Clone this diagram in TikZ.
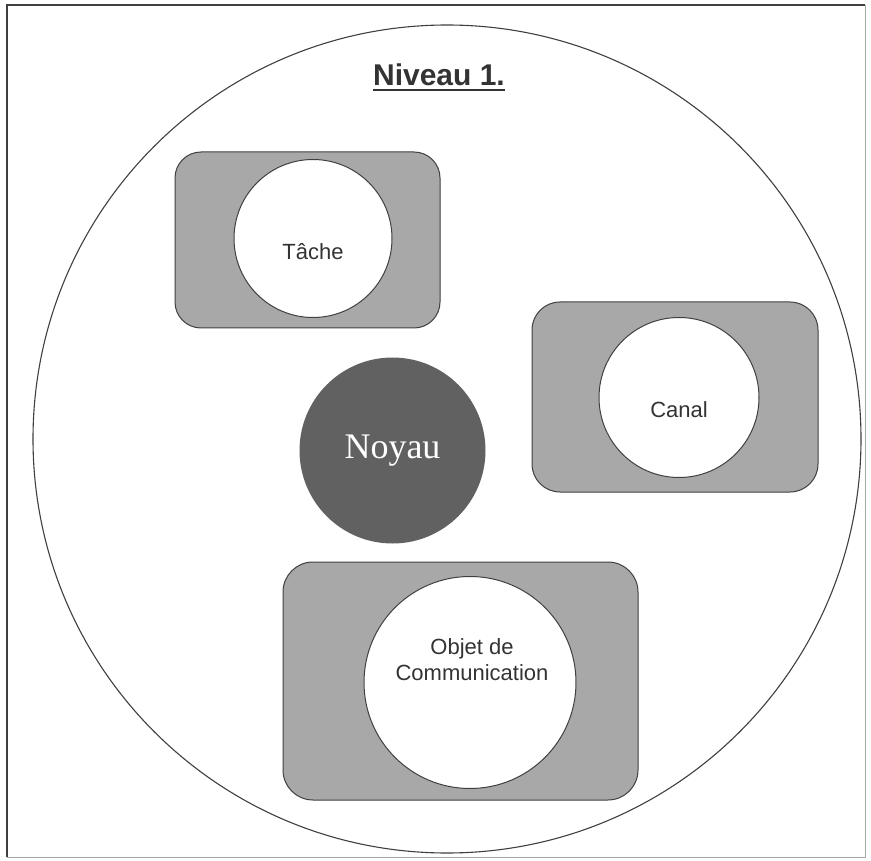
\documentclass[tikz,border=0pt]{standalone}
\usepackage{fontspec}
\setmainfont{Liberation Sans}
\newfontfamily\serifnoyau{Liberation Serif}
\definecolor{boxgray}{gray}{0.66}
\definecolor{coregray}{gray}{0.38}
\definecolor{linegray}{gray}{0.25}
\definecolor{txtgray}{gray}{0.2}
\tikzset{
  x=1pt, y=-1pt,
  outerring/.style={circle, draw=linegray, line width=1.1pt, minimum size=828pt, inner sep=0pt, outer sep=0pt},
  shadebox/.style={rectangle, rounded corners=26pt, draw=linegray, line width=1pt, fill=boxgray, inner sep=0pt, outer sep=0pt},
  whitedisc/.style={circle, draw=linegray, line width=1pt, fill=white, inner sep=0pt, outer sep=0pt},
  label/.style={text=txtgray, font=\fontsize{22}{26}\selectfont, align=center, inner sep=0pt},
  core/.style={circle, fill=coregray, minimum size=186pt, inner sep=0pt, outer sep=0pt, text=white, font=\serifnoyau\fontsize{36}{40}\selectfont}
}
\begin{document}
\begin{tikzpicture}
\useasboundingbox (0,0) rectangle (871,861);
\fill[white] (0,0) rectangle (871,861);
% frame
\coordinate (ftl) at (7,5);
\coordinate (ftr) at (865,5);
\coordinate (fbl) at (7,857);
\coordinate (fbr) at (865,857);
\draw[gray!70, line width=0.8pt] (ftr) -- (fbr) -- (fbl);
\draw[linegray, line width=1.6pt] (fbl) -- (ftl) -- (ftr);
% outer circle
\node[outerring] (ring) at (447,439) {};
% title
\node[text=txtgray, font=\bfseries\fontsize{30}{34}\selectfont, inner sep=0pt, anchor=base] (title) at (439,86) {Niveau 1.};
\draw[txtgray, line width=1.6pt] ([yshift=-4pt]title.base west) -- ([yshift=-4pt]title.base east);
% Tache
\node[shadebox, minimum width=265pt, minimum height=176pt] (tbox) at (307.5,240) {};
\node[whitedisc, minimum size=158pt] (tcirc) at (313,238.5) {};
\node[label] (tlab) at (313,252) {Tâche};
% Canal
\node[shadebox, minimum width=286pt, minimum height=190pt, rounded corners=28pt] (cbox) at (675,397) {};
\node[whitedisc, minimum size=160pt] (ccirc) at (679,397.5) {};
\node[label] (clab) at (679,410) {Canal};
% Noyau
\node[core] (noyau) at (392.5,450.5) {Noyau};
% Objet
\node[shadebox, minimum width=355pt, minimum height=238pt, rounded corners=30pt] (obox) at (460.5,681) {};
\node[whitedisc, minimum size=212pt] (ocirc) at (470,682.5) {};
\node[label] (olab) at (472,660) {Objet de\\Communication};
\end{tikzpicture}
\end{document}
